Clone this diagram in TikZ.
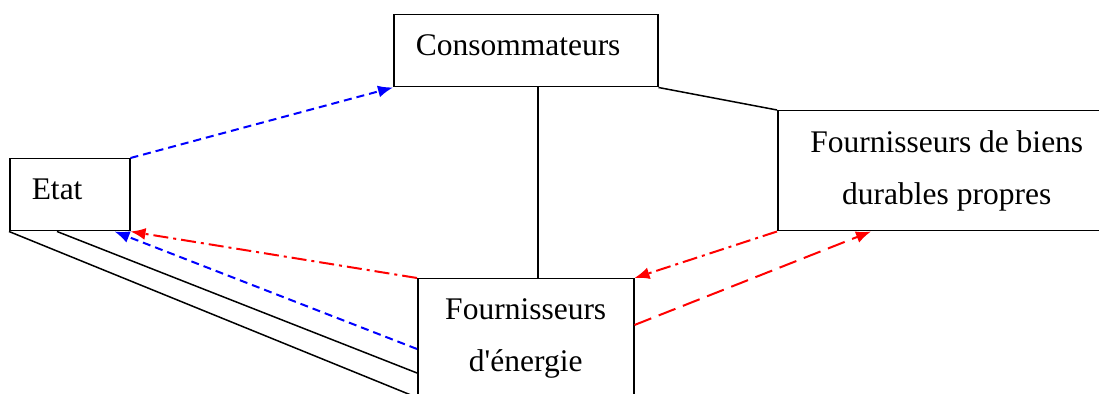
\documentclass[tikz,border=0pt]{standalone}
\usepackage{fontspec}
\setmainfont{Liberation Serif}
\usetikzlibrary{arrows.meta,calc}

\begin{document}
\begin{tikzpicture}[x=0.5pt,y=-0.5pt,font=\fontsize{15.75}{26}\selectfont,
  box/.style={draw,line width=0.75pt,inner sep=0pt},
  lbox/.style={box,anchor=north west,align=left,inner xsep=11pt,text height=11pt,text depth=5.75pt,minimum height=36pt},
  cbox/.style={box,anchor=north west,align=center,minimum height=60pt},
  link/.style={line width=0.75pt},
  bluearr/.style={draw=blue,line width=1pt,dash pattern=on 4pt off 2.5pt,-{Latex[length=7.5pt,width=6pt]}},
  reddashdot/.style={draw=red,line width=1pt,dash pattern=on 7.5pt off 2.5pt on 1.5pt off 2.5pt,-{Latex[length=7.5pt,width=6pt]}},
  redarr/.style={draw=red,line width=1pt,dash pattern=on 9pt off 4pt,-{Latex[length=7.5pt,width=6pt]}}]
\useasboundingbox (0,0) rectangle (1099,394);
\clip (0,0) rectangle (1099,394);
\node[lbox,text width=38pt] (etat) at (9,158) {Etat};
\node[lbox,text width=110pt] (cons) at (393,14) {Consommateurs};
\node[cbox,minimum width=169pt] (biens) at (777,110) {Fournisseurs de biens\\durables propres};
\node[cbox,minimum width=108pt] (energie) at (417,278) {Fournisseurs\\d\textquotesingle énergie};
% liens
\coordinate (c1) at ($(cons.south)+(12,0)$);
\draw[link] (c1) -- (c1 |- energie.north);
\draw[link] (cons.south east) -- (biens.north west);
\draw[link] (etat.south west) -- ($(energie.south west)+(0,-2)$);
\draw[link] ($(etat.south west)+(48,0)$) -- ($(energie.north west)+(0,95)$);
% flux
\draw[bluearr] (etat.north east) -- (cons.south west);
\draw[bluearr] ($(energie.north west)+(0,71)$) -- ($(etat.south east)+(-16,0)$);
\draw[reddashdot] (energie.north west) -- (etat.south east);
\draw[reddashdot] (biens.south west) -- (energie.north east);
\draw[redarr] ($(energie.north east)+(0,47)$) -- ($(biens.south west)+(94,0)$);
\end{tikzpicture}
\end{document}
